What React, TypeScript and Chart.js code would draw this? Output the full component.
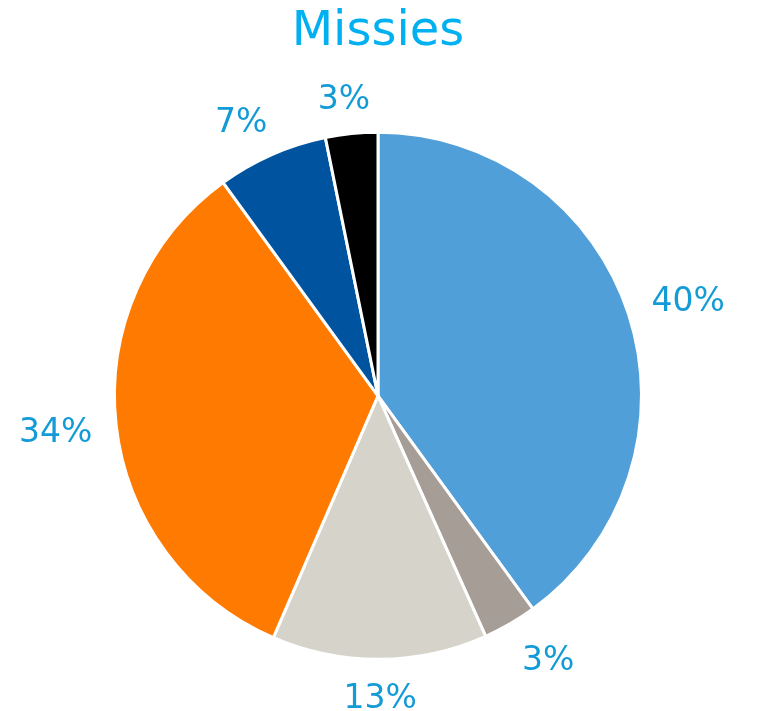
import React, { useEffect, useRef } from "react";
import { Chart, registerables } from "chart.js";

Chart.register(...registerables);

const categories = ["Categorie 1", "Categorie 2", "Categorie 3", "Categorie 4", "Categorie 5", "Categorie 6"];
const values = [40, 3.3, 13.2, 33.5, 6.8, 3.2];
const sliceColors = ["#519FD8", "#A59D96", "#D6D3CB", "#FF7A00", "#00549F", "#000000"];
const titleText = "Missies";

const LABEL_SIZE = 33;

const labelPlugin = {
  id: "outerLabels",
  afterDatasetsDraw(chart: any) {
    const ctx = chart.ctx;
    const meta = chart.getDatasetMeta(0);
    const data = chart.data.datasets[0].data as number[];
    const total = data.reduce((a, b) => a + b, 0);
    ctx.save();
    ctx.font = LABEL_SIZE + "px 'DejaVu Sans'";
    ctx.fillStyle = "#139BD7";
    ctx.textAlign = "center";
    ctx.textBaseline = "alphabetic";
    const capH = LABEL_SIZE * 0.729;
    meta.data.forEach((arc: any, i: number) => {
      const { x, y, startAngle, endAngle, outerRadius } = arc.getProps(
        ["x", "y", "startAngle", "endAngle", "outerRadius"],
        true
      );
      const mid = (startAngle + endAngle) / 2;
      const dx = Math.cos(mid);
      const dy = Math.sin(mid);
      const text = Math.round((data[i] / total) * 100) + "%";
      const w = ctx.measureText(text).width;
      const hw = w / 2;
      const hh = capH / 2 + 1;
      const d = outerRadius + 24;
      const clamp = (v: number) => Math.max(-1, Math.min(1, v));
      const cx = x + dx * d + hw * clamp(dx * 2);
      const cy = y + dy * d + hh * clamp(dy * 2);
      ctx.fillText(text, cx, cy + capH / 2);
    });
    ctx.restore();
  },
};

export default function App() {
  const ref = useRef<HTMLCanvasElement | null>(null);
  useEffect(() => {
    if (!ref.current) return;
    const chart = new Chart(ref.current, {
      type: "pie",
      data: {
        labels: categories,
        datasets: [
          {
            data: values,
            backgroundColor: sliceColors,
            borderColor: "#FFFFFF",
            borderWidth: 3,
          },
        ],
      },
      options: {
        responsive: false,
        animation: false,
        layout: { padding: { top: 0, bottom: 50, left: 113, right: 139 } },
        plugins: {
          legend: { display: false },
          tooltip: { enabled: false },
          title: {
            display: true,
            text: titleText,
            color: "#00B0F0",
            font: { family: "'DejaVu Sans'", size: 48, weight: "normal" },
            padding: { top: 4, bottom: 69 },
          },
        },
      },
      plugins: [labelPlugin],
    });
    return () => chart.destroy();
  }, []);
  return (
    <div style={{ position: "fixed", left: 0, top: 0, width: 782, height: 711, background: "#fff" }}>
      <canvas ref={ref} width={782} height={711} style={{ display: "block" }} />
    </div>
  );
}
